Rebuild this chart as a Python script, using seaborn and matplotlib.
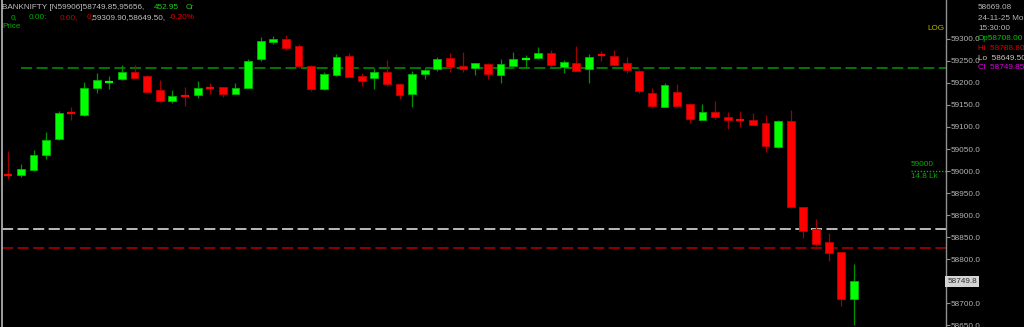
import numpy as np
import pandas as pd
import matplotlib
matplotlib.use("Agg")
import matplotlib.pyplot as plt
import matplotlib.transforms as mtrans
import seaborn as sns

# ---------------- data (BANKNIFTY intraday candles) ----------------
opens = [58993, 58991, 59003, 59036, 59072, 59132, 59127, 59188, 59202, 59208,
         59226, 59216, 59183, 59160, 59172, 59172, 59190, 59190, 59176, 59189,
         59254, 59293, 59300, 59283, 59238, 59186, 59218, 59261, 59216, 59211,
         59224, 59197, 59174, 59220, 59231, 59256, 59239, 59235, 59244, 59219,
         59239, 59253, 59256, 59268, 59237, 59245, 59232, 59264, 59262, 59245,
         59228, 59177, 59146, 59180, 59153, 59116, 59134, 59123, 59116, 59115,
         59108, 59055, 59114, 58918, 58868, 58838, 58816, 58708.00]
highs = [59045, 59017, 59047, 59089, 59136, 59145, 59202, 59223, 59217, 59242,
         59242, 59218, 59206, 59183, 59191, 59204, 59199, 59191, 59201, 59254,
         59305, 59306, 59309.9, 59288, 59242, 59226, 59266, 59269, 59222, 59233,
         59252, 59201, 59228, 59235, 59258, 59268, 59271, 59246, 59245, 59255,
         59271, 59264, 59281, 59275, 59252, 59283, 59266, 59273, 59275, 59258,
         59230, 59189, 59199, 59197, 59155, 59152, 59158, 59133, 59137, 59131,
         59127, 59116, 59139, 58918, 58890, 58858, 58816, 58788.80]
lows = [58982, 58987, 59001, 59027, 59071, 59116, 59125, 59178, 59186, 59207,
        59211, 59179, 59156, 59154, 59148, 59165, 59174, 59168, 59175, 59188,
        59250, 59288, 59275, 59235, 59182, 59185, 59216, 59213, 59193, 59186,
        59193, 59163, 59145, 59209, 59228, 59226, 59226, 59218, 59208, 59199,
        59238, 59233, 59255, 59236, 59223, 59227, 59199, 59251, 59240, 59222,
        59178, 59145, 59145, 59146, 59108, 59116, 59119, 59096, 59101, 59104,
        59043, 59053, 58917, 58848, 58829, 58795, 58693, 58649.50]
closes = [58991, 59005, 59036, 59071, 59132, 59130, 59188, 59206, 59204, 59226,
          59212, 59180, 59158, 59170, 59170, 59188, 59188, 59174, 59188, 59251,
          59295, 59301, 59280, 59239, 59187, 59220, 59259, 59214, 59205, 59226,
          59197, 59172, 59221, 59230, 59254, 59236, 59232, 59245, 59220, 59243,
          59255, 59255, 59268, 59241, 59247, 59228, 59258, 59263, 59241, 59230,
          59182, 59148, 59195, 59148, 59119, 59133, 59122, 59116, 59115, 59105,
          59057, 59114, 58918, 58864, 58834, 58814, 58710, 58749.85]

level_green = 59234.8
level_white = 58868.0
level_red = 58825.0
ytick_values = [58650, 58700, 58750, 58800, 58850, 58900, 58950, 59000,
                59050, 59100, 59150, 59200, 59250, 59300]

header1 = [("BANKNIFTY [N59906]58749.85,95656,", "#c0c0c0", 2),
           ("452.95", "#22c822", 154), ("Cr", "#22c822", 186)]
header2 = [("0,", "#00b000", 11), ("0.00:", "#00b000", 29), ("0.00,", "#c80000", 60),
           ("0", "#c80000", 87), (",59309.90,58649.50,", "#c0c0c0", 90),
           ("-0.20%", "#e00000", 169)]
info = [("58669.08", "#b8b8b8", 7.5), ("24-11-25 Mo", "#b8b8b8", 18),
        ("15:30:00", "#b8b8b8", 29), ("Op58708.00", "#00c800", 39),
        ("Hi  58788.80", "#e00000", 49), ("Lo  58649.50", "#c8c8c8", 58),
        ("Cl  58749.85", "#e000e0", 67.5)]

df = pd.DataFrame({"i": np.arange(len(opens)), "open": opens, "high": highs,
                   "low": lows, "close": closes})

# ---------------- style ----------------
sns.set_theme(style="dark", rc={"axes.facecolor": "black", "figure.facecolor": "black",
                                "lines.scale_dashes": False})
plt.rcParams["font.family"] = ["Liberation Sans", "DejaVu Sans"]

W, H = 1024, 327
fig = plt.figure(figsize=(W / 100, H / 100), dpi=100, facecolor="black")
ax = fig.add_axes([2 / W, 0, 944 / W, 1])
ax.set_facecolor("black")

up = df["close"] >= df["open"]
body_up, body_dn = "#00ff00", "#ff0000"
edge_up, edge_dn = "#00b400", "#c00000"
wick_up, wick_dn = "#009000", "#a00000"

# wicks
ax.vlines(df.loc[up, "i"], df.loc[up, "low"], df.loc[up, "high"], color=wick_up, lw=0.9, zorder=2)
ax.vlines(df.loc[~up, "i"], df.loc[~up, "low"], df.loc[~up, "high"], color=wick_dn, lw=0.9, zorder=2)

# bodies
diff = (df["close"] - df["open"]).abs()
doji = diff <= 2.5
bw = 0.62
for is_up, bc, ec in [(True, body_up, edge_up), (False, body_dn, edge_dn)]:
    sel = (up == is_up) & ~doji
    bottoms = np.minimum(df.loc[sel, "open"], df.loc[sel, "close"])
    heights = diff[sel]
    ax.bar(df.loc[sel, "i"], heights, bottom=bottoms, width=bw, color=bc,
           edgecolor=ec, linewidth=0.6, zorder=3)
    dsel = (up == is_up) & doji
    mids = (df.loc[dsel, "open"] + df.loc[dsel, "close"]) / 2
    ax.hlines(mids, df.loc[dsel, "i"] - bw / 2, df.loc[dsel, "i"] + bw / 2,
              color=bc, lw=1.6, zorder=3)

# reference levels
x_right = 74.3
dash = (8.0, 3.2)
ax.plot([1.0, x_right], [level_green] * 2, color="#008000", lw=1.3, dashes=dash, zorder=1)
ax.plot([-0.5, x_right], [level_white] * 2, color="#c8c8c8", lw=1.3, dashes=dash, zorder=1)
ax.plot([-0.5, x_right], [level_red] * 2, color="#9a0000", lw=1.3, dashes=dash, zorder=1)
ax.plot([71.5, x_right], [59000, 59000], color="#00b000", lw=1.0, ls=(0, (1, 1.2)), zorder=1)

ax.set_xlim(-0.5, x_right)
ax.set_ylim(58645.5, 59388.6)
ax.grid(False)

# axes / spines
for s in ["top", "bottom"]:
    ax.spines[s].set_visible(False)
ax.spines["left"].set_color("#a0a0a0")
ax.spines["left"].set_linewidth(1.4)
ax.spines["right"].set_color("#909090")
ax.spines["right"].set_linewidth(1.0)
ax.set_xticks([])
ax.yaxis.tick_right()
ax.set_yticks(ytick_values)
ax.set_yticklabels(["" if v == 58750 else f"{v:.1f}" for v in ytick_values])
ax.tick_params(axis="y", which="both", direction="out", length=3, width=0.8,
               color="#909090", labelcolor="#b4b4b4", labelsize=5.9, pad=0.5)
ax.set_xlabel("")
ax.set_ylabel("")

# last price tag
tr = mtrans.blended_transform_factory(ax.transAxes, ax.transData)
ax.text(1.0 + 1.5 / 944, closes[-1], f"{closes[-1]:.1f}"[:7], transform=tr, ha="left",
        va="center", fontsize=5.9, color="#303030", clip_on=False, zorder=10,
        bbox=dict(boxstyle="square,pad=0.25", facecolor="#d4d4d4", edgecolor="none"))

# text helpers in pixel coordinates
def ftext(x, y, s, color, size=5.9, ha="left"):
    fig.text(x / W, 1 - y / H, s, color=color, fontsize=size, ha=ha, va="center")

for s, c, x in header1:
    ftext(x, 7.5, s, c)
for s, c, x in header2:
    ftext(x, 17.5, s, c)
ftext(2, 27, "Price", "#00b000")
ftext(944, 28, "LOG", "#b4b400", ha="right")
for s, c, y in info:
    ftext(978, y, s, c)
ftext(911, 164.5, "59000", "#00b000")
ftext(911, 176.5, "14.8 Lk", "#00b000")

fig.savefig("out.png", dpi=100, facecolor="black")
